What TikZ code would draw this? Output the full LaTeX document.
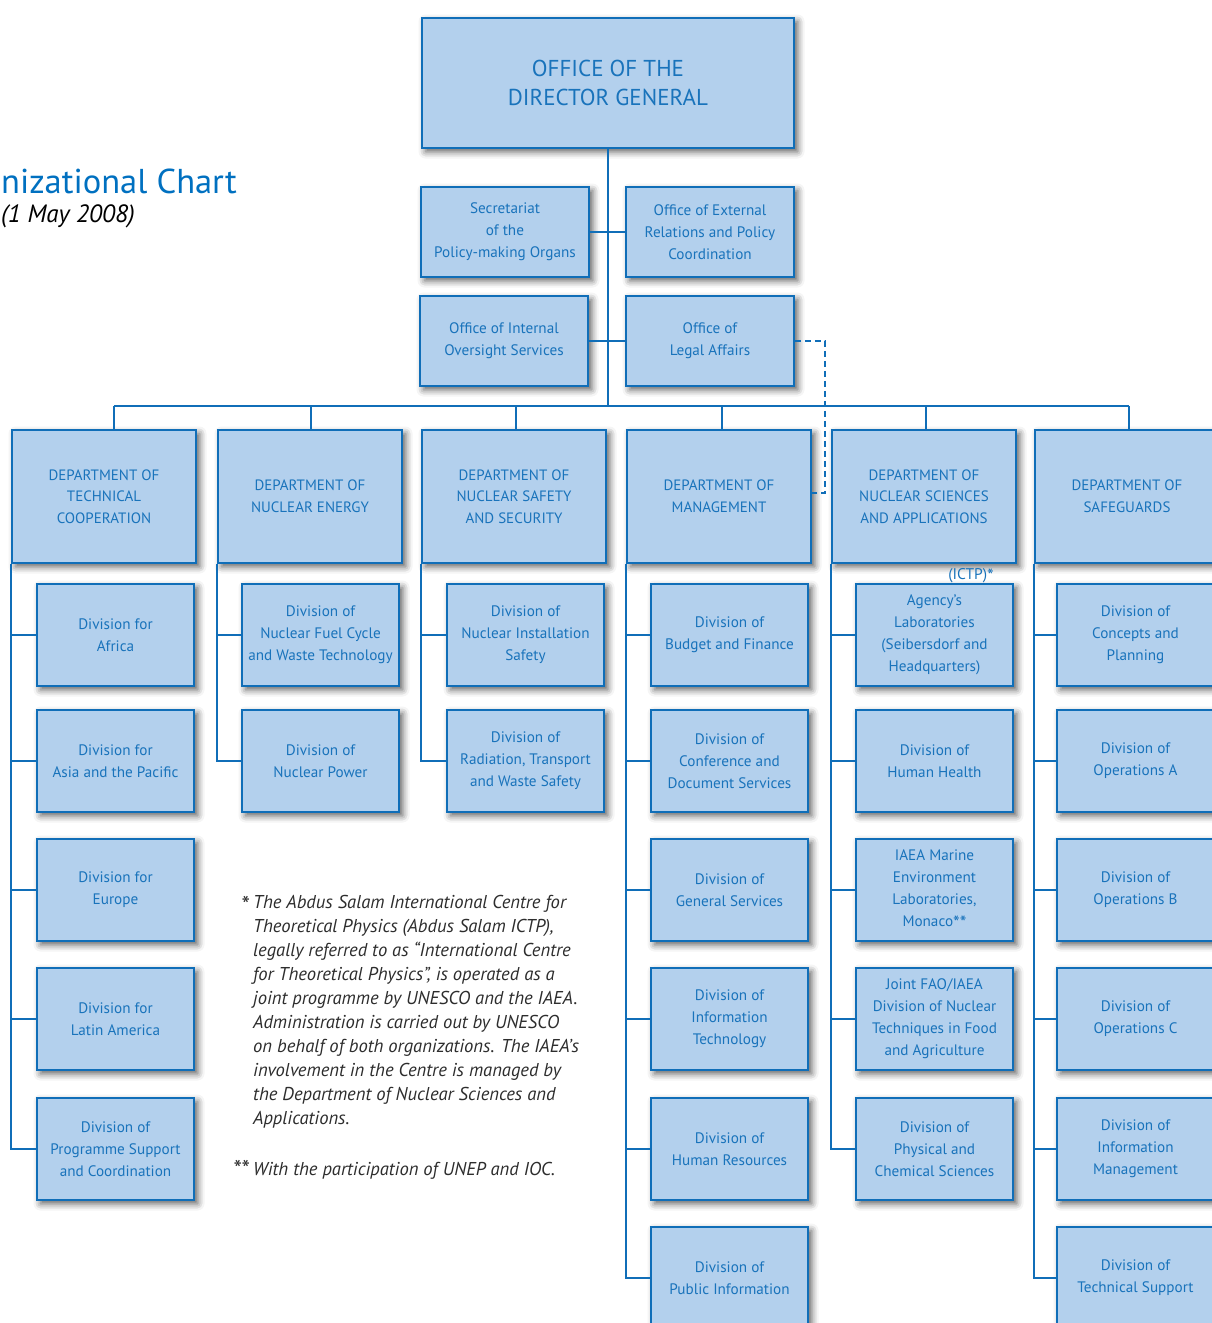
\documentclass[tikz,border=0pt]{standalone}
\usepackage{fontspec}
\setmainfont{PT Sans}
\usetikzlibrary{shadows.blur}
\definecolor{boxfill}{RGB}{179,208,237}
\definecolor{linecol}{RGB}{16,110,184}
\definecolor{txtcol}{RGB}{25,115,187}
\definecolor{titlecol}{RGB}{0,112,192}
\definecolor{notecol}{RGB}{45,45,45}
\tikzset{
  box/.style={draw=linecol, line width=1.8pt, fill=boxfill, text=txtcol,
    font=\fontsize{15.2}{22}\selectfont, align=center, inner sep=0pt,
    blur shadow={shadow xshift=3.5pt, shadow yshift=-3.5pt, shadow blur radius=7pt, shadow opacity=65}},
  div/.style={box, minimum width=157pt, minimum height=102pt},
  dept/.style={box, minimum width=184pt, minimum height=133pt, font=\fontsize{15}{21.7}\selectfont},
  office/.style={box, minimum width=168pt, minimum height=90pt},
  conn/.style={draw=linecol, line width=1.8pt},
  dashconn/.style={draw=linecol, line width=1.6pt, dash pattern=on 6pt off 4pt},
  note/.style={text=notecol, font=\fontsize{18.6}{24}\selectfont\itshape, inner sep=0pt},
}
\newcommand{\bigast}[1]{{\fontsize{#1}{#1}\selectfont*}}
\begin{document}
\begin{tikzpicture}[x=1pt,y=-1pt]
\useasboundingbox (0,0) rectangle (1211,1323);

% title
\node[anchor=base west, text=titlecol, font=\fontsize{34.5}{40}\selectfont, inner sep=0pt] (title) at (1,193) {nizational Chart};
\node[anchor=base west, text=black, font=\fontsize{25}{28}\selectfont\itshape, inner sep=0pt] (date) at (1,222) {(1 May 2008)};

\coordinate (busL) at (114,406);
\coordinate (busR) at (1129,406);
\coordinate (dk) at (825,493);

% top
\node[box, minimum width=372pt, minimum height=130pt, font=\fontsize{23}{29}\selectfont] (dg) at (608,83) {\raisebox{-3pt}{\parbox{300pt}{\centering OFFICE OF THE\\DIRECTOR GENERAL}}};

\draw[conn] (dg.south) -- (dg.south |- busL);
\draw[conn] (busL) -- (busR);

\node[office] (sec) at (505,232) {Secretariat\\of the\\Policy-making Organs};
\node[office] (ext) at (710,232) {Office of External\\Relations and Policy\\Coordination};
\node[office] (ios) at (504,341) {Office of Internal\\Oversight Services};
\node[office] (leg) at (710,341) {Office of\\Legal Affairs};
\draw[conn] (sec.east) -- (ext.west);
\draw[conn] (ios.east) -- (leg.west);

% departments
\node[dept] (tc) at (104,496.5) {DEPARTMENT OF\\TECHNICAL\\COOPERATION};
\node[dept] (ne) at (310,496.5) {DEPARTMENT OF\\NUCLEAR ENERGY};
\node[dept] (ns) at (514,496.5) {DEPARTMENT OF\\NUCLEAR SAFETY\\AND SECURITY};
\node[dept] (mg) at (719,496.5) {DEPARTMENT OF\\MANAGEMENT};
\node[dept] (na) at (924,496.5) {DEPARTMENT OF\\NUCLEAR  SCIENCES\\AND APPLICATIONS};
\node[dept] (sg) at (1127,496.5) {DEPARTMENT OF\\SAFEGUARDS};

\draw[conn] (busL) -- (busL |- tc.north);
\draw[conn] (ne.north -| 311,0) -- (busL -| 311,0);
\draw[conn] (ns.north -| 516,0) -- (busL -| 516,0);
\draw[conn] (mg.north -| 722,0) -- (busL -| 722,0);
\draw[conn] (na.north -| 926,0) -- (busL -| 926,0);
\draw[conn] (busR) -- (busR |- sg.north);

\draw[dashconn] (leg.east) -| (dk) -- (dk -| mg.east);

\node[anchor=base east, text=txtcol, font=\fontsize{15.5}{17}\selectfont, inner sep=0pt] (ictp) at (994,579) {(ICTP)\raisebox{-3pt}{\bigast{19}}};

% TC divisions
\node[div] (tc1) at (115.5,635) {Division for\\Africa};
\node[div] (tc2) at (115.5,761) {Division for\\Asia and the Pacific};
\node[div] (tc3) at (115.5,890) {Division for\\Europe};
\node[div] (tc4) at (115.5,1019) {Division for\\Latin America};
\node[div] (tc5) at (115.5,1149) {Division of\\Programme Support\\and Coordination};
% NE
\node[div] (ne1) at (320.5,635) {Division of\\Nuclear Fuel Cycle\\and Waste Technology};
\node[div] (ne2) at (320.5,761) {Division of\\Nuclear Power};
% NS
\node[div] (ns1) at (525.5,635) {Division of\\Nuclear Installation\\Safety};
\node[div] (ns2) at (525.5,761) {Division of\\Radiation, Transport\\and Waste Safety};
% MG
\node[div] (mg1) at (729.5,635) {Division of\\Budget and Finance};
\node[div] (mg2) at (729.5,761) {Division of\\Conference and\\Document Services};
\node[div] (mg3) at (729.5,890) {Division of\\General Services};
\node[div] (mg4) at (729.5,1019) {Division of\\Information\\Technology};
\node[div] (mg5) at (729.5,1149) {Division of\\Human Resources};
\node[div] (mg6) at (729.5,1278) {Division of\\Public Information};
% NA
\node[div] (na1) at (934.5,635) {Agency’s\\Laboratories\\(Seibersdorf and\\Headquarters)};
\node[div] (na2) at (934.5,761) {Division of\\Human Health};
\node[div] (na3) at (934.5,890) {IAEA Marine\\Environment\\Laboratories,\\Monaco\raisebox{-3pt}{\bigast{19}\bigast{19}}};
\node[div] (na4) at (934.5,1019) {Joint FAO/IAEA\\Division of Nuclear\\Techniques in Food\\and Agriculture};
\node[div] (na5) at (934.5,1149) {Division of\\Physical and\\Chemical Sciences};
% SG
\node[div] (sg1) at (1135.5,635) {Division of\\Concepts and\\Planning};
\node[div] (sg2) at (1135.5,761) {Division of\\Operations A};
\node[div] (sg3) at (1135.5,890) {Division of\\Operations B};
\node[div] (sg4) at (1135.5,1019) {Division of\\Operations C};
\node[div] (sg5) at (1135.5,1149) {Division of\\Information\\Management};
\node[div] (sg6) at (1135.5,1278) {Division of\\Technical Support};

% spines
\foreach \d in {tc1,tc2,tc3,tc4,tc5} \draw[conn] (tc.south west) |- (\d.west);
\foreach \d in {ne1,ne2} \draw[conn] (ne.south west) |- (\d.west);
\foreach \d in {ns1,ns2} \draw[conn] (ns.south west) |- (\d.west);
\foreach \d in {mg1,mg2,mg3,mg4,mg5,mg6} \draw[conn] (mg.south west) |- (\d.west);
\foreach \d in {na1,na2,na3,na4,na5} \draw[conn] (na.south west) |- (\d.west);
\foreach \d in {sg1,sg2,sg3,sg4,sg5,sg6} \draw[conn] (sg.south west) |- (\d.west);

% footnotes
\node[note, anchor=base east] (star1) at (249,913) {\bigast{24}};
\node[note, anchor=north west, align=left] (note1) at (253,895)
 {The Abdus Salam International Centre for\\
  Theoretical Physics (Abdus Salam ICTP),\\
  legally referred to as “International Centre\\
  for Theoretical Physics”, is operated as a\\
  joint programme by UNESCO and the IAEA.\\
  Administration is carried out by UNESCO\\
  on behalf of both organizations. The IAEA’s\\
  involvement in the Centre is managed by\\
  the Department of Nuclear Sciences and\\
  Applications.};
\node[note, anchor=base east] (star2) at (249,1177) {\bigast{24}\bigast{24}};
\node[note, anchor=base west] (note2) at (253,1175) {With the participation of UNEP and IOC.};
\end{tikzpicture}
\end{document}
